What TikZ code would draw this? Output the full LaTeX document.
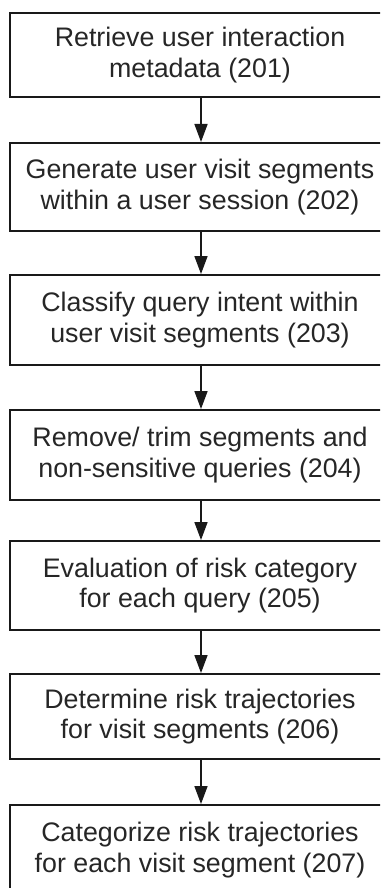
\documentclass[tikz,border=0pt]{standalone}
\usepackage{fontspec}
\setmainfont{Liberation Sans}
\usetikzlibrary{arrows.meta}
\begin{document}
\begin{tikzpicture}[x=1pt,y=-1pt,
  box/.style={draw=black!90, line width=2pt, rectangle, anchor=north west, minimum width=380pt,
    inner sep=0pt, align=center, font=\fontsize{26.8}{30.5}\selectfont, text=black!85},
  flow/.style={draw=black!90, line width=1.6pt, -{Triangle[width=13pt,length=18pt]}}]
\useasboundingbox (0,0) rectangle (380,888);
\begin{scope}
\clip (0,0) rectangle (380,888);
\node[box, minimum height=84pt] (b1) at (9,12) {Retrieve user interaction\\metadata (201)};
\node[box, minimum height=88pt] (b2) at (9,142) {Generate user visit segments\\within a user session (202)};
\node[box, minimum height=90pt] (b3) at (9,274) {Classify query intent within\\user visit segments (203)};
\node[box, minimum height=90pt] (b4) at (9,409) {Remove/ trim segments and\\non-sensitive queries (204)};
\node[box, minimum height=89pt] (b5) at (9,540) {Evaluation of risk category\\for each query (205)};
\node[box, minimum height=85pt] (b6) at (9,673) {Determine risk trajectories\\for visit segments (206)};
\node[box, minimum height=90pt] (b7) at (9,804) {Categorize risk trajectories\\for each visit segment (207)};
\end{scope}
\foreach \a/\b in {b1/b2,b2/b3,b3/b4,b4/b5,b5/b6,b6/b7}{
  \draw[flow] (\a.south -| 201,0) -- (\b.north -| 201,0);
}
\end{tikzpicture}
\end{document}
